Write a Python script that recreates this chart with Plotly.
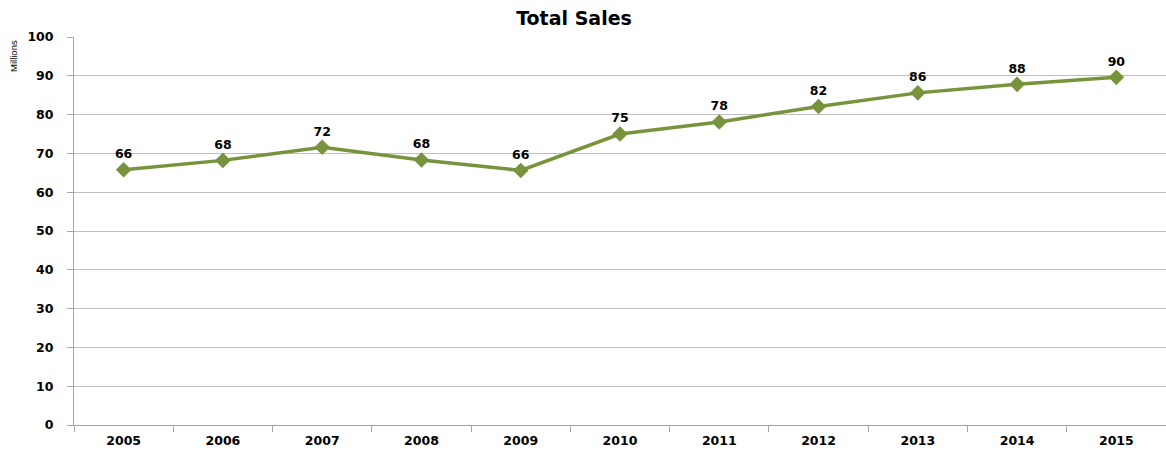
import plotly.graph_objects as go

years = ["2005", "2006", "2007", "2008", "2009", "2010", "2011", "2012", "2013", "2014", "2015"]
sales = [65.8, 68.2, 71.6, 68.3, 65.6, 75.0, 78.1, 82.1, 85.6, 87.8, 89.6]
y_ticks = [0, 10, 20, 30, 40, 50, 60, 70, 80, 90, 100]

color = "#77933C"
font_family = "DejaVu Sans"

fig = go.Figure()
fig.add_trace(go.Scatter(
    x=years, y=sales,
    mode="lines+markers+text",
    line=dict(color=color, width=3.5),
    marker=dict(symbol="diamond", size=12, color=color),
    text=[f"{v:.0f}" for v in sales],
    textposition="top center",
    textfont=dict(family=font_family, size=12.5, color="#000000", weight="bold"),
    cliponaxis=False,
    hoverinfo="x+y",
))

fig.update_layout(
    width=1166, height=450,
    margin=dict(l=74, r=0, t=37, b=25, autoexpand=False),
    paper_bgcolor="white", plot_bgcolor="white",
    showlegend=False,
    title=dict(text="Total Sales", x=574 / 1166, xref="container", xanchor="center",
               y=1 - 18 / 450, yref="container", yanchor="middle",
               font=dict(family=font_family, size=19, color="#000000", weight="bold")),
    annotations=[dict(text="Millions", xref="paper", yref="paper", x=(13 - 74) / 1092, y=(425 - 56) / 388,
                      xanchor="center", yanchor="middle", textangle=-90, showarrow=False,
                      font=dict(family="Liberation Sans Narrow, Liberation Sans", size=9.5, color="#000000"))],
)
fig.update_xaxes(
    type="category", automargin=False, range=[-0.5, len(years) - 0.5],
    showgrid=False,
    showline=True, linecolor="#A6A6A6", linewidth=1,
    ticks="outside", tickson="boundaries", ticklen=6, tickcolor="#A6A6A6",
    ticklabelstandoff=4,
    tickfont=dict(family=font_family, size=12.5, color="#000000", weight="bold"),
)
fig.update_yaxes(
    range=[0, 100], tickvals=y_ticks, automargin=False,
    showgrid=True, gridcolor="#BFBFBF", gridwidth=1,
    showline=True, linecolor="#A6A6A6", linewidth=1,
    ticks="outside", ticklen=6, tickcolor="#A6A6A6",
    ticklabelstandoff=11,
    zeroline=False,
    tickfont=dict(family=font_family, size=12.5, color="#000000", weight="bold"),
)

fig.write_html("out.html", config={"displayModeBar": False},
               post_script="document.body.style.margin='0';document.body.style.overflow='hidden';")
